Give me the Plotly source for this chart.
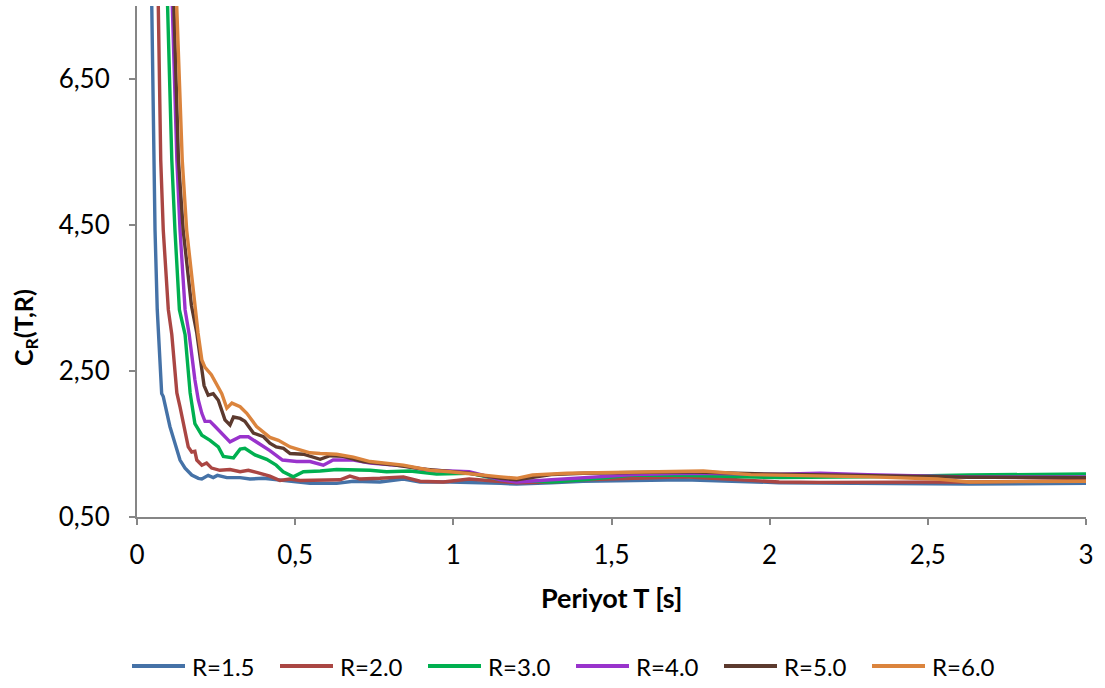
import plotly.graph_objects as go

# Reduction coefficient C_R(T,R) against period T for several R values
t_r15 = [0.040, 0.046, 0.052, 0.057, 0.064, 0.078, 0.083, 0.094, 0.104, 0.120, 0.136, 0.152,
         0.173, 0.194, 0.205, 0.225, 0.241, 0.254, 0.284, 0.326, 0.357, 0.40, 0.44, 0.484,
         0.547, 0.631, 0.684, 0.768, 0.842, 0.895, 0.99, 1.15, 1.20, 1.31, 1.41, 1.57,
         1.73, 2.03, 2.31, 2.63, 3.0]
c_r15 = [9.5, 7.47, 5.39, 4.43, 3.34, 2.19, 2.15, 1.92, 1.74, 1.51, 1.28, 1.17,
         1.075, 1.03, 1.02, 1.07, 1.04, 1.07, 1.04, 1.04, 1.02, 1.03, 1.01, 0.98,
         0.96, 0.96, 0.99, 0.98, 1.02, 0.98, 0.98, 0.96, 0.95, 0.97, 0.99, 1.00,
         1.01, 0.97, 0.96, 0.95, 0.96]

t_r20 = [0.060, 0.067, 0.075, 0.083, 0.099, 0.110, 0.126, 0.136, 0.152, 0.162, 0.173, 0.183,
         0.189, 0.205, 0.220, 0.236, 0.262, 0.294, 0.326, 0.352, 0.378, 0.42, 0.452, 0.484,
         0.515, 0.579, 0.642, 0.673, 0.705, 0.768, 0.842, 0.895, 0.968, 1.05, 1.15, 1.20,
         1.31, 1.41, 1.57, 1.73, 2.03, 2.16, 2.63, 3.0]
c_r20 = [9.5, 7.47, 5.39, 4.43, 3.34, 3.0, 2.20, 2.01, 1.69, 1.46, 1.39, 1.40,
         1.28, 1.21, 1.24, 1.17, 1.14, 1.15, 1.12, 1.14, 1.11, 1.06, 1.00, 1.02,
         1.00, 1.01, 1.01, 1.06, 1.02, 1.03, 1.05, 0.99, 0.98, 1.02, 0.98, 0.97,
         0.98, 1.01, 1.03, 1.05, 0.98, 0.975, 0.98, 1.00]

t_r30 = [0.084, 0.097, 0.110, 0.120, 0.134, 0.152, 0.168, 0.183, 0.194, 0.205, 0.231, 0.257,
         0.273, 0.305, 0.326, 0.341, 0.373, 0.41, 0.44, 0.462, 0.494, 0.526, 0.579, 0.631,
         0.737, 0.789, 0.863, 0.947, 1.05, 1.15, 1.31, 1.41, 1.57, 1.73, 2.03, 2.31,
         2.63, 3.0]
c_r30 = [9.5, 7.47, 5.39, 4.43, 3.34, 3.0, 2.20, 1.78, 1.69, 1.62, 1.55, 1.46,
         1.33, 1.31, 1.43, 1.44, 1.35, 1.29, 1.21, 1.12, 1.05, 1.12, 1.13, 1.15,
         1.14, 1.12, 1.13, 1.09, 1.10, 1.01, 0.98, 1.01, 1.075, 1.07, 1.04, 1.05,
         1.075, 1.09]

t_r40 = [0.098, 0.113, 0.126, 0.136, 0.152, 0.165, 0.183, 0.194, 0.205, 0.215, 0.231, 0.247,
         0.273, 0.294, 0.326, 0.352, 0.384, 0.42, 0.46, 0.505, 0.547, 0.589, 0.62, 0.684,
         0.737, 0.842, 0.926, 0.99, 1.05, 1.15, 1.20, 1.31, 1.41, 1.57, 1.73, 2.03,
         2.16, 2.31, 2.63, 3.0]
c_r40 = [9.5, 7.47, 5.39, 4.43, 3.34, 3.0, 2.38, 2.10, 1.92, 1.81, 1.81, 1.74,
         1.62, 1.53, 1.60, 1.60, 1.51, 1.41, 1.28, 1.26, 1.26, 1.21, 1.28, 1.28,
         1.24, 1.20, 1.14, 1.13, 1.12, 1.01, 0.98, 1.01, 1.04, 1.08, 1.10, 1.085,
         1.10, 1.08, 1.05, 1.05]

t_r50 = [0.103, 0.117, 0.131, 0.146, 0.172, 0.189, 0.205, 0.212, 0.225, 0.241, 0.257, 0.278,
         0.294, 0.305, 0.326, 0.341, 0.368, 0.40, 0.42, 0.44, 0.463, 0.484, 0.526, 0.579,
         0.61, 0.652, 0.715, 0.80, 0.90, 0.99, 1.05, 1.15, 1.20, 1.31, 1.41, 1.57,
         1.73, 2.03, 2.31, 2.63, 3.0]
c_r50 = [9.5, 7.47, 5.39, 4.43, 3.40, 3.02, 2.56, 2.30, 2.17, 2.19, 2.10, 1.83,
         1.76, 1.87, 1.85, 1.81, 1.65, 1.60, 1.51, 1.46, 1.44, 1.37, 1.36, 1.29,
         1.34, 1.33, 1.26, 1.22, 1.16, 1.13, 1.10, 1.03, 1.01, 1.08, 1.10, 1.11,
         1.12, 1.085, 1.07, 1.045, 1.04]

t_r60 = [0.109, 0.126, 0.143, 0.157, 0.180, 0.193, 0.205, 0.215, 0.235, 0.268, 0.284, 0.30,
         0.326, 0.347, 0.378, 0.42, 0.447, 0.484, 0.515, 0.547, 0.579, 0.631, 0.684, 0.737,
         0.842, 0.926, 0.99, 1.05, 1.15, 1.20, 1.25, 1.36, 1.52, 1.67, 1.79, 1.94,
         2.03, 2.32, 2.53, 2.63, 3.0]
c_r60 = [9.5, 7.47, 5.39, 4.43, 3.47, 3.02, 2.65, 2.55, 2.45, 2.19, 1.99, 2.06,
         2.01, 1.92, 1.74, 1.59, 1.55, 1.46, 1.42, 1.38, 1.37, 1.36, 1.32, 1.26,
         1.21, 1.14, 1.12, 1.09, 1.05, 1.03, 1.075, 1.10, 1.11, 1.12, 1.13, 1.08,
         1.075, 1.05, 1.02, 0.98, 0.99]

series_names = ["R=1.5", "R=2.0", "R=3.0", "R=4.0", "R=5.0", "R=6.0"]
series_t = [t_r15, t_r20, t_r30, t_r40, t_r50, t_r60]
series_c = [c_r15, c_r20, c_r30, c_r40, c_r50, c_r60]
colors = ["#4572A7", "#AA4643", "#00B050", "#9933CC", "#5C3A2E", "#DB843D"]

x_tickvals = [0, 0.5, 1, 1.5, 2, 2.5, 3]
x_ticktext = ["0", "0,5", "1", "1,5", "2", "2,5", "3"]
y_tickvals = [0.5, 2.5, 4.5, 6.5]
y_ticktext = ["0,50", "2,50", "4,50", "6,50"]

FONT = "Lato, 'Open Sans', sans-serif"

# figure geometry (pixels)
W, H = 1105, 688
ML, MR, MT, MB = 137, 19, 6, 171
PW, PH = W - ML - MR, H - MT - MB


def px_to_paper(px, py):
    return (px - ML) / PW, (H - MB - py) / PH


fig = go.Figure()
for name, t, c, col in zip(series_names, series_t, series_c, colors):
    fig.add_trace(go.Scatter(x=t, y=c, mode="lines", name=name,
                             line=dict(color=col, width=3.4)))

axis_common = dict(showgrid=False, zeroline=False, showline=True,
                   linecolor="#868686", linewidth=2, ticks="outside",
                   tickcolor="#868686", ticklen=6, tickwidth=1.5,
                   tickfont=dict(family=FONT, size=26, color="#000000"))

fig.update_xaxes(range=[0, 3], tickvals=x_tickvals, ticktext=x_ticktext,
                 ticklabelstandoff=8, **axis_common)
fig.update_yaxes(range=[0.5, 7.5], tickvals=y_tickvals, ticktext=y_ticktext,
                 ticklabelstandoff=14, **axis_common)

# horizontal key below the axis title
shapes = []
annotations = []
key_x0, key_pitch, key_len, key_y = 132, 148, 53, 666
for i, (name, col) in enumerate(zip(series_names, colors)):
    x0 = key_x0 + i * key_pitch
    xa, ya = px_to_paper(x0, key_y)
    xb, _ = px_to_paper(x0 + key_len, key_y)
    shapes.append(dict(type="line", xref="paper", yref="paper", x0=xa, x1=xb, y0=ya, y1=ya,
                       line=dict(color=col, width=4)))
    xt, _ = px_to_paper(x0 + key_len + 5, key_y)
    annotations.append(dict(text=name, xref="paper", yref="paper", x=xt, y=ya,
                            xanchor="left", yanchor="middle", showarrow=False,
                            font=dict(family=FONT, size=24, color="#000000")))

xt_x, xt_y = px_to_paper(611, 597)
yt_x, yt_y = px_to_paper(25, 328)
annotations += [
    dict(text="<b>Periyot T [s]</b>", xref="paper", yref="paper", x=xt_x, y=xt_y,
         xanchor="center", yanchor="middle", showarrow=False,
         font=dict(family=FONT, size=27, color="#000000")),
    dict(text="<b>C<sub>R</sub>(T,R)</b>", xref="paper", yref="paper", x=yt_x, y=yt_y,
         xanchor="center", yanchor="middle", showarrow=False, textangle=-90,
         font=dict(family=FONT, size=25, color="#000000")),
]

fig.update_layout(
    width=W, height=H,
    margin=dict(l=ML, r=MR, t=MT, b=MB),
    plot_bgcolor="white", paper_bgcolor="white",
    showlegend=False,
    shapes=shapes,
    annotations=annotations,
)

fig.write_html("out.html")
